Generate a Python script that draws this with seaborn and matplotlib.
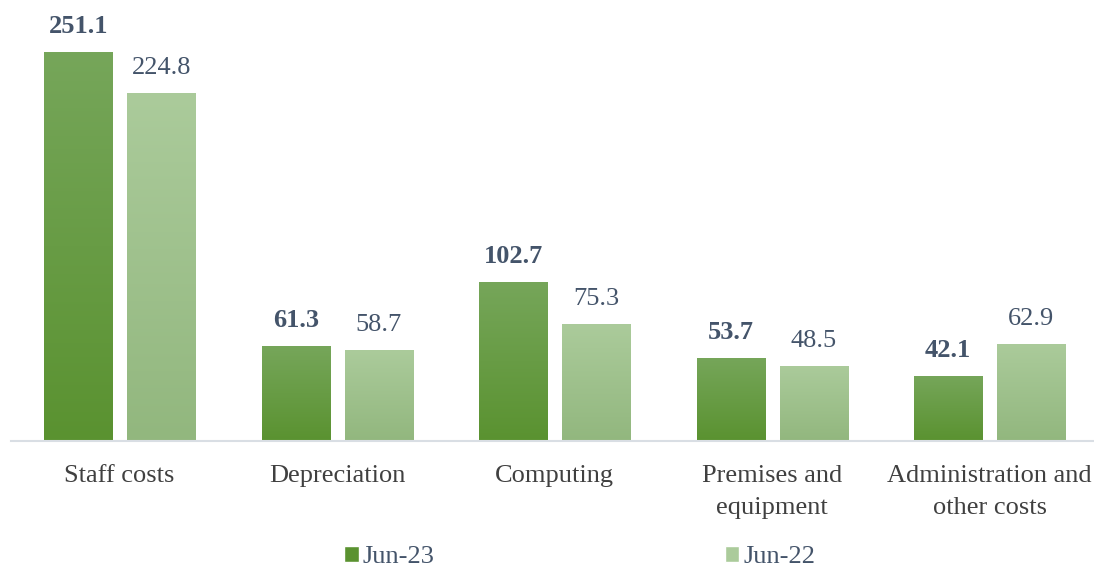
import numpy as np
import pandas as pd
import matplotlib.pyplot as plt
import seaborn as sns
from matplotlib.colors import LinearSegmentedColormap
from matplotlib.patches import Patch

categories = ["Staff costs", "Depreciation", "Computing",
              "Premises and\nequipment", "Administration and\nother costs"]
series = ["Jun-23", "Jun-22"]
jun23 = [251.1, 61.3, 102.7, 53.7, 42.1]
jun22 = [224.8, 58.7, 75.3, 48.5, 62.9]

# top / bottom colours of the gradient fill
grad_colors = {"Jun-23": ("#76A65A", "#5A9230"), "Jun-22": ("#ABCB9B", "#92B77E")}
label_color = "#44546A"

df = pd.DataFrame({
    "category": categories * 2,
    "value": jun23 + jun22,
    "period": [series[0]] * len(jun23) + [series[1]] * len(jun22),
})

sns.set_style("white")
plt.rcParams["font.family"] = ["Liberation Serif", "DejaVu Serif"]

fig = plt.figure(figsize=(10.94, 5.69), dpi=100)
ax = fig.add_axes([0.01, 0.225, 0.99, 0.775])

pal = {k: v[1] for k, v in grad_colors.items()}
sns.barplot(data=df, x="category", y="value", hue="period", hue_order=series,
            palette=pal, width=0.763, gap=0.18, ax=ax, legend=False)

# gradient fill on each bar
grad = np.linspace(0, 1, 256).reshape(-1, 1)
for name, cont in zip(series, ax.containers):
    cmap = LinearSegmentedColormap.from_list(name, grad_colors[name])
    for bar in cont:
        x0, w, h = bar.get_x(), bar.get_width(), bar.get_height()
        im = ax.imshow(grad, extent=[x0, x0 + w, 0, h], cmap=cmap,
                       aspect="auto", zorder=bar.get_zorder() + 0.1)
        im.set_clip_path(bar)

for i, cont in enumerate(ax.containers):
    ax.bar_label(cont, fmt="%.1f", padding=10, fontsize=19, color=label_color,
                 fontweight="bold" if i == 0 else "normal")

ax.set_xlim(-0.5, 4.48)
ax.set_ylim(0, 284.7)
ax.set_xlabel("")
ax.set_ylabel("")
ax.set_yticks([])
ax.tick_params(axis="x", length=0, pad=17, labelsize=19, labelcolor="#404040")
for t in ax.get_xticklabels():
    t.set_linespacing(1.6)
for s in ["top", "left", "right"]:
    ax.spines[s].set_visible(False)
ax.spines["bottom"].set_color("#D9DEE4")
ax.spines["bottom"].set_linewidth(1.5)

handles = [Patch(facecolor=grad_colors[s][1], label=s) for s in series]
handles[1].set_facecolor(grad_colors["Jun-22"][0])
fig.legend(handles=handles, loc="center", bbox_to_anchor=(0.53, 0.021), ncol=2,
           frameon=False, fontsize=19, labelcolor=label_color,
           handlelength=0.55, handleheight=0.55, handletextpad=0.15,
           columnspacing=11)

fig.savefig("out.png", dpi=100)
